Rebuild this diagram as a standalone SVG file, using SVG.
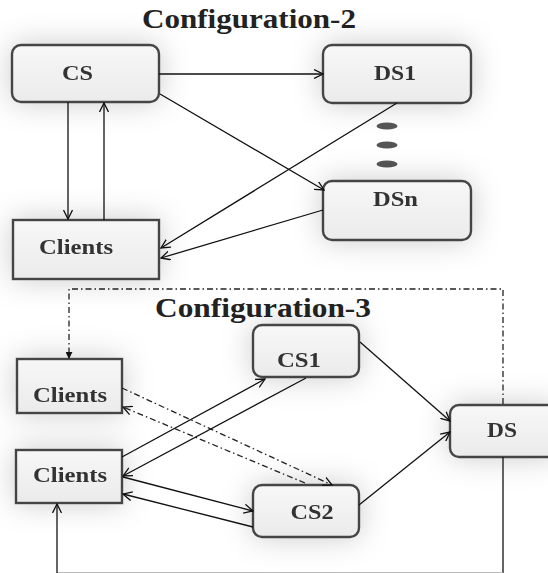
<svg xmlns="http://www.w3.org/2000/svg" width="548" height="573" viewBox="0 0 548 573">
<defs>
<linearGradient id="boxg" x1="0" y1="0" x2="0" y2="1">
<stop offset="0" stop-color="#f7f7f7"/>
<stop offset="1" stop-color="#ebebeb"/>
</linearGradient>
<filter id="halo" x="-60%" y="-80%" width="220%" height="260%">
<feGaussianBlur in="SourceAlpha" stdDeviation="15" result="b"/>
<feFlood flood-color="#000" flood-opacity="0.2"/>
<feComposite in2="b" operator="in" result="s"/>
<feMerge><feMergeNode in="s"/><feMergeNode in="SourceGraphic"/></feMerge>
</filter>
<marker id="open" viewBox="0 0 10 10" refX="9" refY="5" markerWidth="10" markerHeight="10" markerUnits="userSpaceOnUse" orient="auto">
<path d="M0,0.5 L9,5 L0,9.5" fill="none" stroke="#111" stroke-width="1.3"/>
</marker>
<marker id="solid" viewBox="0 0 8 8" refX="7" refY="4" markerWidth="7" markerHeight="7" markerUnits="userSpaceOnUse" orient="auto">
<path d="M0,0 L8,4 L0,8 Z" fill="#111"/>
</marker>
<style>
.box{fill:url(#boxg);stroke:#454545;stroke-width:2.4}
.lbl{font-family:"Liberation Serif","Times New Roman",serif;font-weight:bold;font-size:21px;fill:#333;text-anchor:middle}
.title{font-family:"Liberation Serif","Times New Roman",serif;font-weight:bold;font-size:27px;fill:#222;text-anchor:middle}
.ln{fill:none;stroke:#111;stroke-width:1.3}
.arr{marker-end:url(#open)}
.dd{fill:none;stroke:#222;stroke-width:1.3;stroke-dasharray:6 3 1.5 3}
.dot{fill:#555}
</style>
</defs>
<rect width="548" height="573" fill="#fff"/>

<text class="title" x="249" y="28" textLength="214" lengthAdjust="spacingAndGlyphs">Configuration-2</text>
<text class="title" x="263" y="317" textLength="216" lengthAdjust="spacingAndGlyphs">Configuration-3</text>

<g id="cs" filter="url(#halo)">
<rect class="box" x="12" y="45" width="147" height="57" rx="9"/>
<text class="lbl" x="77.5" y="80" textLength="31" lengthAdjust="spacingAndGlyphs">CS</text>
</g>
<g id="ds1" filter="url(#halo)">
<rect class="box" x="323" y="45" width="148" height="58" rx="9"/>
<text class="lbl" x="395" y="80" textLength="42" lengthAdjust="spacingAndGlyphs">DS1</text>
</g>
<g id="dots">
<ellipse class="dot" cx="387" cy="126" rx="10.5" ry="3.6"/>
<ellipse class="dot" cx="387" cy="145" rx="10.5" ry="3.6"/>
<ellipse class="dot" cx="387" cy="164" rx="10.5" ry="3.6"/>
</g>
<g id="dsn" filter="url(#halo)">
<rect class="box" x="323" y="181" width="148" height="59" rx="9"/>
<text class="lbl" x="395.5" y="206" textLength="45" lengthAdjust="spacingAndGlyphs">DSn</text>
</g>
<g id="clients-top" filter="url(#halo)">
<rect class="box" x="13" y="220" width="146" height="59"/>
<text class="lbl" x="76" y="254" textLength="74" lengthAdjust="spacingAndGlyphs">Clients</text>
</g>

<g id="clients1" filter="url(#halo)">
<rect class="box" x="17" y="359" width="105" height="54"/>
<text class="lbl" x="70" y="402" textLength="74" lengthAdjust="spacingAndGlyphs">Clients</text>
</g>
<g id="clients2" filter="url(#halo)">
<rect class="box" x="16" y="450" width="106" height="53"/>
<text class="lbl" x="70" y="482" textLength="74" lengthAdjust="spacingAndGlyphs">Clients</text>
</g>
<g id="cs1" filter="url(#halo)">
<rect class="box" x="253" y="325" width="106" height="52" rx="9"/>
<text class="lbl" x="299" y="367" textLength="44" lengthAdjust="spacingAndGlyphs">CS1</text>
</g>
<g id="cs2" filter="url(#halo)">
<rect class="box" x="253" y="485" width="106" height="52" rx="9"/>
<text class="lbl" x="312" y="519" textLength="43" lengthAdjust="spacingAndGlyphs">CS2</text>
</g>
<g id="ds" filter="url(#halo)">
<rect class="box" x="450" y="405" width="108" height="52" rx="9"/>
<text class="lbl" x="502" y="437" textLength="30" lengthAdjust="spacingAndGlyphs">DS</text>
</g>

<g id="connectors">
<line class="ln arr" x1="159" y1="74" x2="323" y2="74"/>
<line class="ln arr" x1="160" y1="94" x2="324" y2="190"/>
<line class="ln arr" x1="68" y1="102" x2="68" y2="219"/>
<line class="ln arr" x1="104" y1="220" x2="104" y2="103"/>
<line class="ln arr" x1="397" y1="103" x2="161" y2="248"/>
<line class="ln arr" x1="323" y1="210" x2="161" y2="258"/>

<polyline class="dd" points="503,404 503,289 69,289 69,358" marker-end="url(#solid)"/>
<line class="ln arr" x1="122" y1="457" x2="265" y2="379"/>
<line class="ln arr" x1="306" y1="378" x2="123" y2="476"/>
<line class="ln arr" x1="123" y1="477" x2="253" y2="511"/>
<line class="ln arr" x1="253" y1="527" x2="123" y2="494"/>
<line class="ln arr" x1="360" y1="342" x2="450" y2="421"/>
<line class="ln arr" x1="359" y1="505" x2="450" y2="432"/>
<line class="ln" x1="503" y1="457" x2="503" y2="573"/>
<line x1="57" y1="572.7" x2="503" y2="572.7" stroke="#aaa" stroke-width="1"/>
<line class="ln arr" x1="57" y1="573" x2="57" y2="504"/>
<line class="dd arr" x1="122" y1="388" x2="332" y2="485"/>
<line class="dd arr" x1="305" y1="483" x2="123" y2="407"/>
</g>
</svg>
